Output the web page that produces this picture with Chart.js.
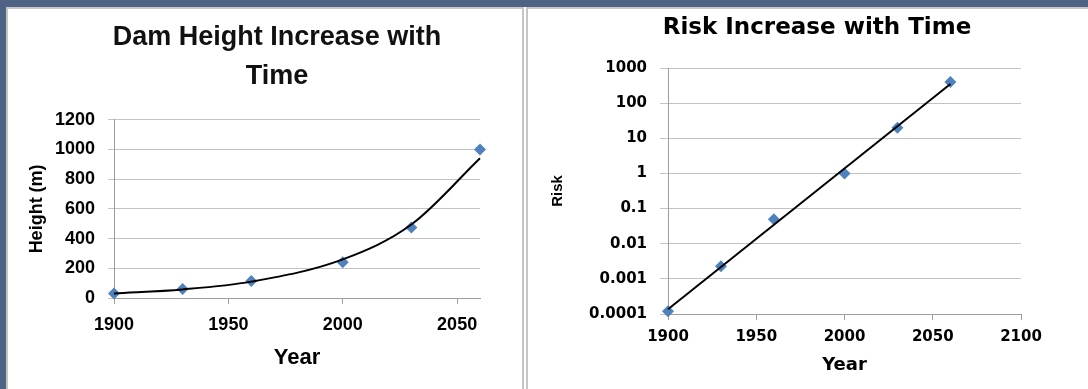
<!DOCTYPE html>
<html>
<head>
<meta charset="utf-8">
<script src="https://cdn.jsdelivr.net/npm/chart.js@4"></script>
<style>
  html, body { margin: 0; padding: 0; }
  body { width: 1088px; height: 389px; background: #4e6283; position: relative; overflow: hidden; }
  .sheet { position: absolute; left: 6px; top: 7px; width: 1082px; height: 382px; background: #fff; }
  .panel { position: absolute; top: 7px; height: 390px; border: 2px solid #c6c6c6; box-sizing: border-box; background: #fff; }
  canvas { position: absolute; }
</style>
</head>
<body>
<div class="sheet"></div>
<div class="panel" style="left:6px;width:518px"></div>
<div class="panel" style="left:526px;width:570px"></div>
<canvas id="dam" width="514" height="380" style="left:8px;top:9px"></canvas>
<canvas id="risk" width="559" height="380" style="left:529px;top:9px"></canvas>
<script>
// data
const years = [1900, 1930, 1960, 2000, 2030, 2060];
const heights = [30, 60, 115, 240, 475, 1000];
const risks = [0.00012, 0.0023, 0.05, 1, 20, 400];

const heightTicks = [0, 200, 400, 600, 800, 1000, 1200];
const damYearTicks = [1900, 1950, 2000, 2050];
const riskTicks = [0.0001, 0.001, 0.01, 0.1, 1, 10, 100, 1000];
const riskYearTicks = [1900, 1950, 2000, 2050, 2100];

// exponential trendline (least squares on ln y, like Excel)
function expFit(xs, ys) {
  const n = xs.length;
  const ly = ys.map(v => Math.log(v));
  const mx = xs.reduce((a, b) => a + b, 0) / n;
  const my = ly.reduce((a, b) => a + b, 0) / n;
  let sxy = 0, sxx = 0;
  for (let i = 0; i < n; i++) {
    sxy += (xs[i] - mx) * (ly[i] - my);
    sxx += (xs[i] - mx) * (xs[i] - mx);
  }
  const b = sxy / sxx;
  return x => Math.exp(my + b * (x - mx));
}

const damFit = expFit(years, heights);
const riskFit = expFit(years, risks);

const blue = '#4f81bd';
const gridCol = '#c3c3c3';
const axisCol = '#9d9d9d';

function fixTicks(list) {
  return scale => { scale.ticks = list.map(v => ({value: v})); };
}

// ---- left chart
const damFont = 'Liberation Sans';
new Chart(document.getElementById('dam'), {
  type: 'scatter',
  data: {
    datasets: [{
      data: years.map(x => ({x: x, y: damFit(x)})),
      showLine: true,
      borderColor: '#000',
      borderWidth: 2,
      pointRadius: 0,
      cubicInterpolationMode: 'monotone',
      clip: false,
      order: 0
    }, {
      data: years.map((x, i) => ({x: x, y: heights[i]})),
      pointStyle: 'rectRot',
      pointRadius: 6,
      backgroundColor: blue,
      borderColor: blue,
      borderWidth: 0,
      clip: false,
      order: 1
    }]
  },
  options: {
    responsive: false,
    animation: false,
    devicePixelRatio: 1,
    layout: {padding: {left: 24, right: 0, top: 0, bottom: 0}},
    plugins: {
      legend: {display: false},
      tooltip: {enabled: false},
      title: {
        display: true,
        text: ['Dam Height Increase with', 'Time'],
        color: '#111',
        font: {family: damFont, size: 27, weight: 'bold', lineHeight: 1.44},
        padding: {top: 9.5, bottom: 23.5}
      }
    },
    scales: {
      x: {
        type: 'linear',
        min: 1900, max: 2060,
        afterBuildTicks: fixTicks(damYearTicks),
        afterFit: s => { s.height = 91; },
        grid: {drawOnChartArea: false, drawTicks: true, tickLength: 6, color: axisCol},
        border: {display: true, color: axisCol, width: 1},
        ticks: {
          color: '#000', padding: 10, maxRotation: 0, autoSkip: false,
          font: {family: damFont, size: 18, weight: 'bold'},
          callback: v => String(v)
        },
        title: {
          display: true, text: 'Year', color: '#000',
          font: {family: damFont, size: 22, weight: 'bold'},
          padding: {top: 0, bottom: 18}
        }
      },
      y: {
        type: 'linear',
        min: 0, max: 1200,
        afterBuildTicks: fixTicks(heightTicks),
        afterFit: s => { s.width = 82; },
        grid: {color: gridCol, drawTicks: true, tickLength: 6},
        border: {display: true, color: axisCol, width: 1},
        ticks: {
          color: '#000', padding: 13, autoSkip: false,
          font: {family: damFont, size: 18, weight: 'bold'},
          callback: v => String(v)
        },
        title: {
          display: true, text: 'Height (m)', color: '#000',
          font: {family: damFont, size: 18, weight: 'bold'},
          padding: {top: -6, bottom: 0}
        }
      },
      y2: {
        position: 'right',
        display: true,
        afterFit: s => { s.width = 42; },
        grid: {display: false},
        border: {display: false},
        ticks: {display: false}
      }
    }
  }
});

// ---- right chart
const riskFont = 'DejaVu Sans';
new Chart(document.getElementById('risk'), {
  type: 'scatter',
  data: {
    datasets: [{
      data: [years[0], years[years.length - 1]].map(x => ({x: x, y: riskFit(x)})),
      showLine: true,
      borderColor: '#000',
      borderWidth: 2,
      pointRadius: 0,
      clip: false,
      order: 0
    }, {
      data: years.map((x, i) => ({x: x, y: risks[i]})),
      pointStyle: 'rectRot',
      pointRadius: 6,
      backgroundColor: blue,
      borderColor: blue,
      borderWidth: 0,
      clip: false,
      order: 1
    }]
  },
  options: {
    responsive: false,
    animation: false,
    devicePixelRatio: 1,
    layout: {padding: {left: 17, right: 0, top: 0, bottom: 0}},
    plugins: {
      legend: {display: false},
      tooltip: {enabled: false},
      title: {
        display: true,
        text: 'Risk Increase with Time',
        color: '#000',
        font: {family: riskFont, size: 23, weight: 'bold', lineHeight: 1.2},
        padding: {top: 5, bottom: 26.4}
      }
    },
    scales: {
      x: {
        type: 'linear',
        min: 1900, max: 2100,
        afterBuildTicks: fixTicks(riskYearTicks),
        afterFit: s => { s.height = 75; },
        grid: {drawOnChartArea: false, drawTicks: true, tickLength: 6, color: axisCol},
        border: {display: true, color: axisCol, width: 1},
        ticks: {
          color: '#000', padding: 8, maxRotation: 0, autoSkip: false,
          font: {family: riskFont, size: 15, weight: 'bold'},
          callback: v => String(v)
        },
        title: {
          display: true, text: 'Year', color: '#000',
          font: {family: riskFont, size: 18, weight: 'bold'},
          padding: {top: 0, bottom: 13}
        }
      },
      y: {
        type: 'logarithmic',
        min: 0.0001, max: 1000,
        afterBuildTicks: fixTicks(riskTicks),
        afterFit: s => { s.width = 122; },
        grid: {color: gridCol, drawTicks: true, tickLength: 8},
        border: {display: true, color: axisCol, width: 1},
        ticks: {
          color: '#000', padding: 13, autoSkip: false,
          font: {family: riskFont, size: 15, weight: 'bold'},
          callback: v => String(v)
        },
        title: {
          display: true, text: 'Risk', color: '#000',
          font: {family: 'Liberation Sans', size: 15, weight: 'bold'},
          padding: {top: 3, bottom: 0}
        }
      },
      y2: {
        position: 'right',
        display: true,
        afterFit: s => { s.width = 67; },
        grid: {display: false},
        border: {display: false},
        ticks: {display: false}
      }
    }
  }
});
</script>
</body>
</html>
